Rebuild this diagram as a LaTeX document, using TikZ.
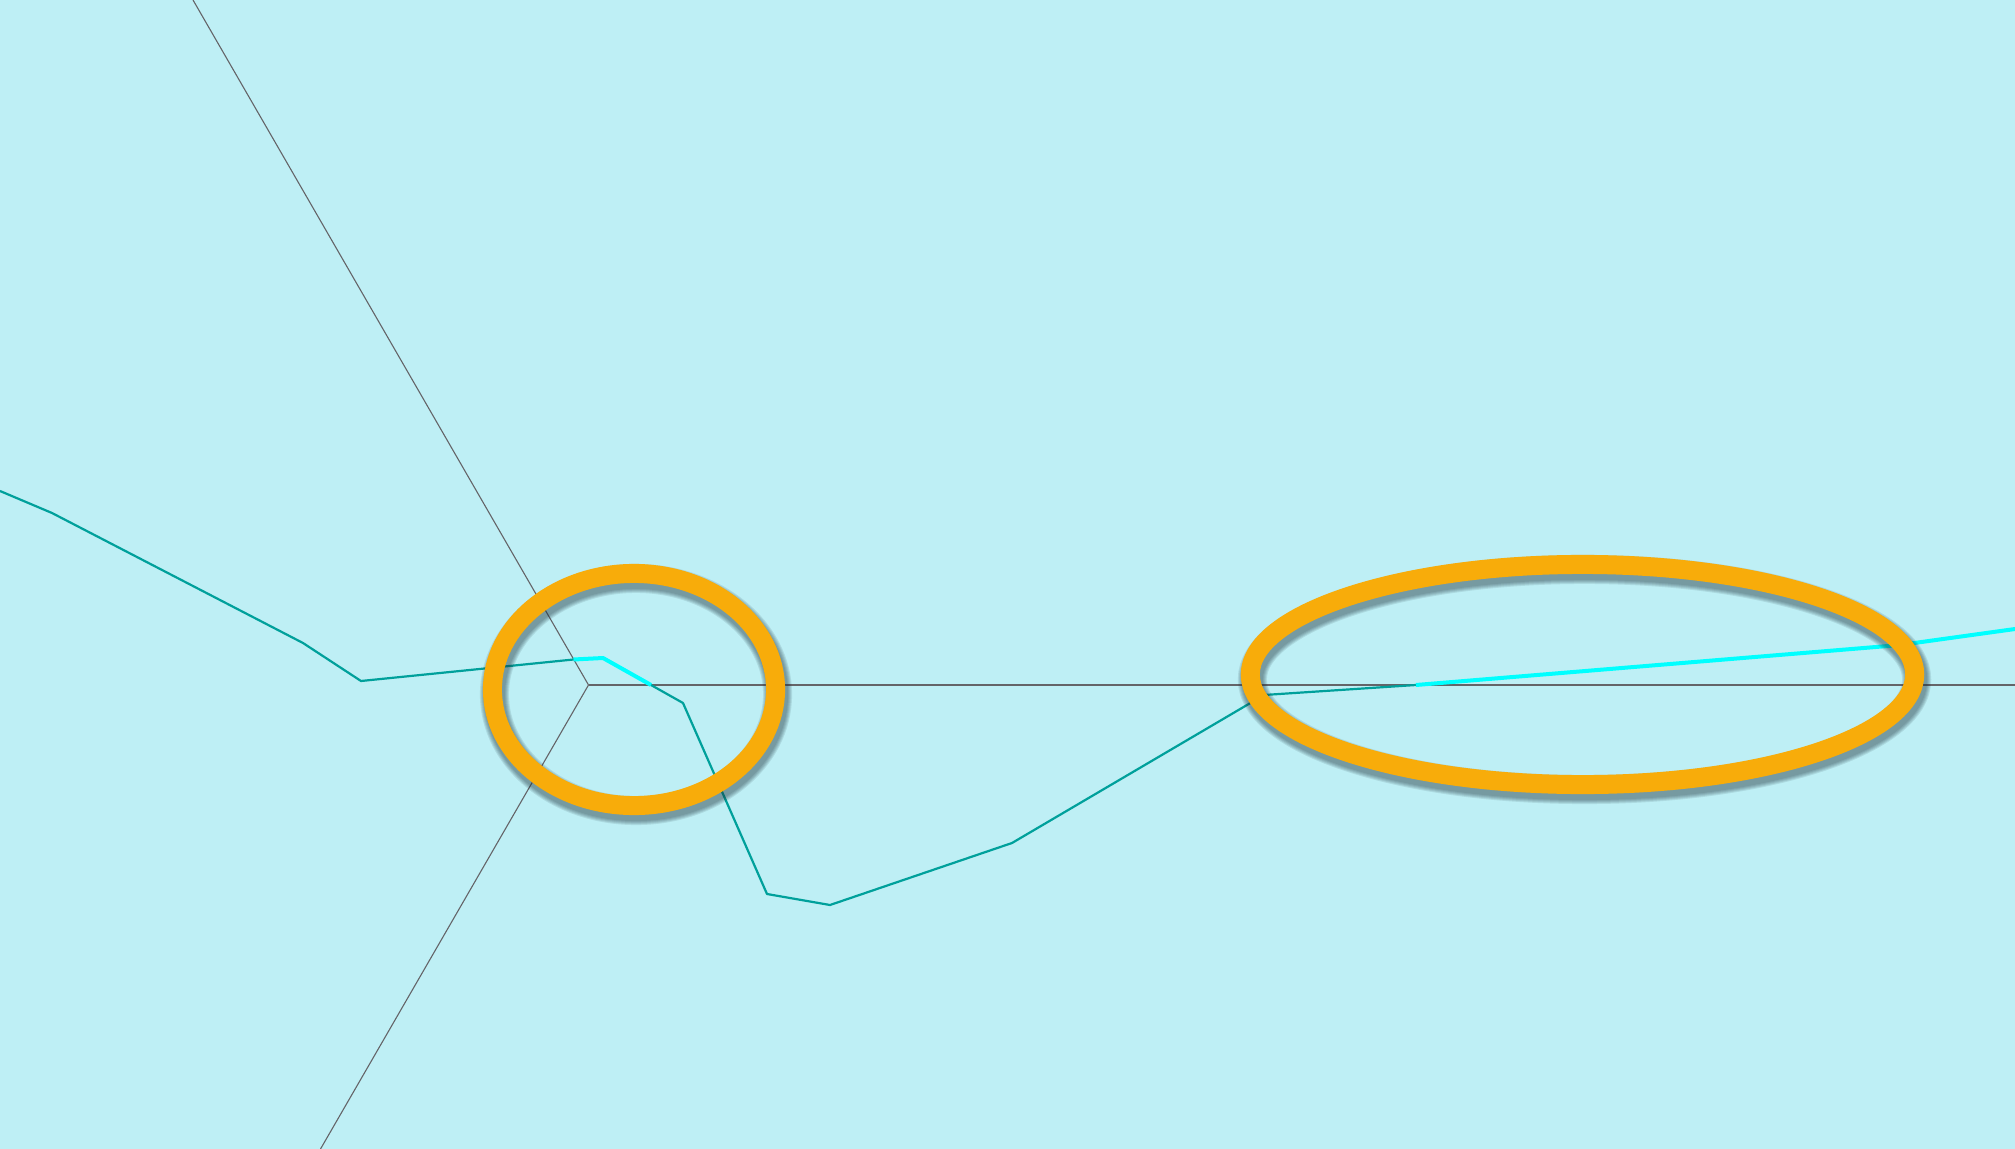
\documentclass[tikz,border=0pt]{standalone}
\usepackage{xcolor}
\usepackage{tikz}
\usetikzlibrary{calc}
\definecolor{PaleCyan}{RGB}{190,239,245}
\definecolor{DeepTeal}{RGB}{0,160,155}
\definecolor{BrightCyan}{RGB}{0,255,255}
\definecolor{RingOrange}{RGB}{248,172,10}
\definecolor{ShadowGray}{RGB}{30,50,60}
\definecolor{AxisGray}{RGB}{100,100,104}

\begin{document}
\begin{tikzpicture}[x=0.01cm,y=-0.01cm,
		axis/.style={AxisGray,line width=0.011cm},
		track/.style={DeepTeal,line width=0.022cm,line join=round},
		hot/.style={BrightCyan,line width=0.04cm,line join=round},
		ring/.style={RingOrange,line width=0.19cm}]
		% 背景
		\fill[PaleCyan] (0,0) rectangle (2015,1149);
		\useasboundingbox (0,0) rectangle (2015,1149);
		
		\coordinate (V) at (588.5,685);
		\coordinate (rayTop) at (193,0);
		\coordinate (rayBot) at (320.5,1149);
		\coordinate (rayRight) at (2015,685);
		
		% 三条射线
		\draw[axis] (rayTop) -- (V) -- (rayBot);
		\draw[axis] (V) -- (rayRight);
		
		% 折线的点
		\coordinate (p0) at (0,491);
		\coordinate (p1) at (52,513);
		\coordinate (p2) at (303,643);
		\coordinate (p3) at (361,681);
		\coordinate (p4) at (573.5,659.5);
		\coordinate (p5) at (603,658);
		\coordinate (p6) at (651,685);
		\coordinate (p7) at (683,703);
		\coordinate (p8) at (767,894);
		\coordinate (p9) at (830,905);
		\coordinate (p10) at (1012,843);
		\coordinate (p11) at (1264,695);
		\coordinate (p12) at (1416,685);
		\coordinate (p13) at (1900,645);
		\coordinate (p14) at (2015,629);
		
		% 折线（青绿）
		\draw[track] (p0) -- (p1) -- (p2) -- (p3) -- (p4);
		\draw[track] (p6) -- (p7) -- (p8) -- (p9) -- (p10) -- (p11) -- (p12);
		
		% 高亮段（亮青）
		\draw[hot] (p4) -- (p5) -- (p6);
		\draw[hot] (p12) -- (p13) -- (p14);
		
		% 圈出的地方
		\coordinate (E1) at (634,689.5);
		\coordinate (E2) at (1582.5,674.5);
		\foreach \k in {1,...,5}{
			\pgfmathsetmacro{\lw}{0.19+0.02*\k}
			\draw[ShadowGray,opacity=0.11,line width=\lw cm] ($(E1)+(2,5)$) ellipse [x radius=1.415cm,y radius=1.16cm];
			\draw[ShadowGray,opacity=0.11,line width=\lw cm] ($(E2)+(2,5)$) ellipse [x radius=3.32cm,y radius=1.10cm];
		}
		\draw[ring] (E1) ellipse [x radius=1.415cm,y radius=1.16cm];
		\draw[ring] (E2) ellipse [x radius=3.32cm,y radius=1.10cm];
	\end{tikzpicture}
\end{document}
